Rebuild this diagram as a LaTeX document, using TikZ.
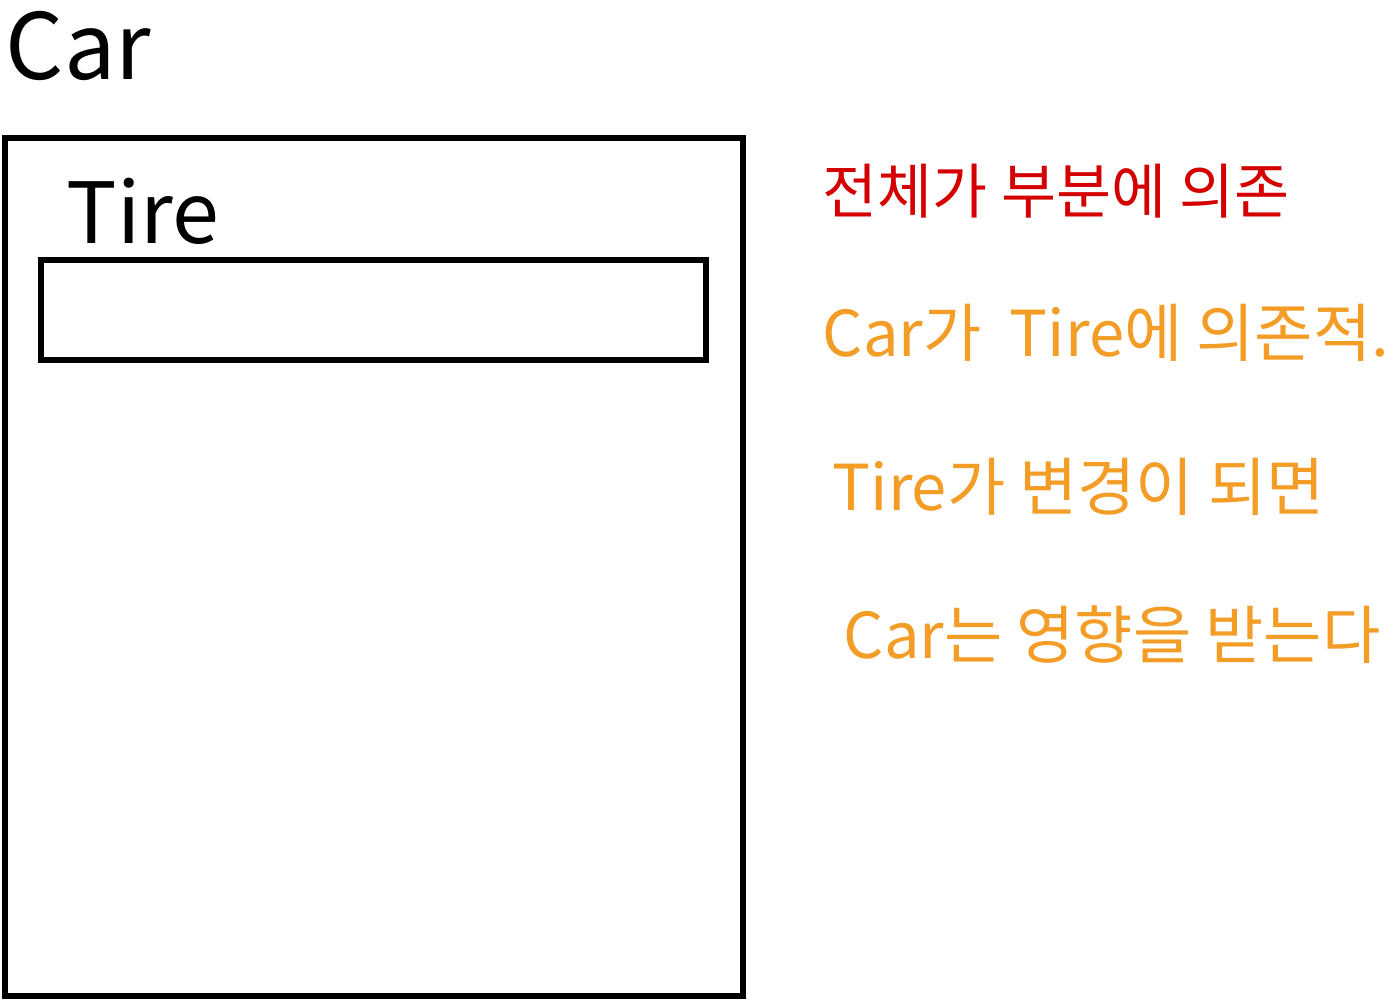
\documentclass[tikz,border=0pt]{standalone}
\usepackage{fontspec}
\setmainfont{Noto Sans CJK KR}
\usetikzlibrary{positioning}
\definecolor{notered}{RGB}{212, 0, 0}
\definecolor{noteorange}{RGB}{243, 156, 38}

\begin{document}
\begin{tikzpicture}[x=0.01cm, y=-0.01cm,
    boxline/.style={line width=1.5pt},
    notetext/.style={anchor=base west, inner sep=0pt, font=\fontsize{18}{22}\selectfont}]
    \useasboundingbox (0,0) rectangle (1400,1000);

    % Car box
    \draw[boxline] (5,138) rectangle (743,996);
    \node[anchor=base west, inner sep=0pt, font=\fontsize{26}{30}\selectfont] (carlabel) at (5,80) {Car};

    % Tire box
    \draw[boxline] (41,260) rectangle (706,360);
    \node[anchor=base west, inner sep=0pt, font=\fontsize{24}{28}\selectfont] (tirelabel) at (66,243) {Tire};

    % Notes
    \node[notetext, text=notered, font=\fontsize{17}{21}\selectfont] (whole) at (822,213) {전체가 부분에 의존};
    \node[notetext, text=noteorange] (depend) at (822,356) {Car가 \ Tire에 의존적.};
    \node[notetext, text=noteorange] (change) at (832,510) {Tire가 변경이 되면};
    \node[notetext, text=noteorange] (affect) at (843,658) {Car는 영향을 받는다};
\end{tikzpicture}
\end{document}
